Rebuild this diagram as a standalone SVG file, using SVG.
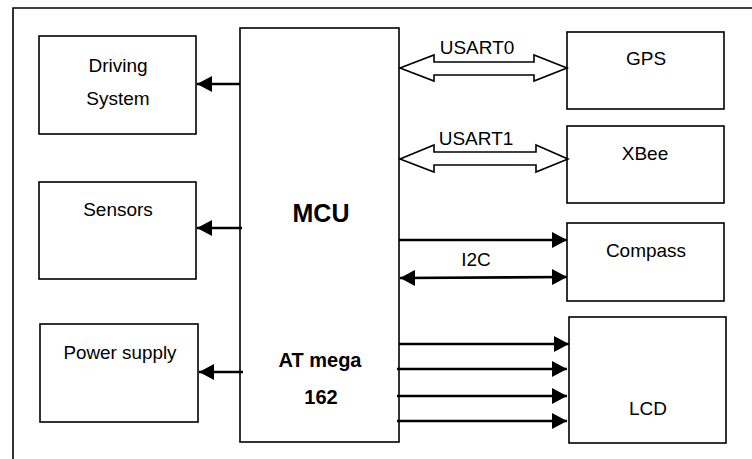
<svg xmlns="http://www.w3.org/2000/svg" width="752" height="459" viewBox="0 0 752 459">
<defs>
<marker id="ah" markerUnits="userSpaceOnUse" markerWidth="16" markerHeight="16" refX="15" refY="8" orient="auto-start-reverse" viewBox="0 0 16 16">
<path d="M0,0 L15,8 L0,16 Z" fill="#000"/>
</marker>
</defs>
<style>
.box{fill:#fff;stroke:#000;stroke-width:1.6}
.t{font-family:"Liberation Sans",Arial,sans-serif;font-size:19px;fill:#000;text-anchor:middle}
.b{font-family:"Liberation Sans",Arial,sans-serif;font-weight:bold;fill:#000;text-anchor:middle}
.w{fill:none;stroke:#000;stroke-width:2.6}
.h{fill:#fff;stroke:#000;stroke-width:1.6;stroke-linejoin:miter}
</style>
<rect width="752" height="459" fill="#fff"/>
<path d="M13,459 V8 H752" fill="none" stroke="#000" stroke-width="1.6"/>
<g id="driving"><rect class="box" x="39" y="36" width="157" height="98"/><text class="t" x="118" y="72">Driving</text><text class="t" x="118" y="105">System</text></g>
<g id="sensors"><rect class="box" x="39" y="182" width="157" height="97"/><text class="t" x="118" y="216">Sensors</text></g>
<g id="power"><rect class="box" x="40" y="324" width="158" height="98"/><text class="t" x="120" y="359" textLength="113" lengthAdjust="spacingAndGlyphs">Power supply</text></g>
<g id="mcu"><rect class="box" x="240" y="28" width="159" height="414"/><text class="b" x="321" y="222" font-size="25">MCU</text><text class="b" x="320" y="367" font-size="20">AT mega</text><text class="b" x="321" y="404" font-size="20">162</text></g>
<g id="gps"><rect class="box" x="567" y="32" width="157" height="77"/><text class="t" x="646" y="65">GPS</text></g>
<g id="xbee"><rect class="box" x="567" y="126" width="157" height="77"/><text class="t" x="645" y="160">XBee</text></g>
<g id="compass"><rect class="box" x="567" y="223" width="157" height="78"/><text class="t" x="646" y="257">Compass</text></g>
<g id="lcd"><rect class="box" x="569" y="317" width="157" height="126"/><text class="t" x="648" y="415">LCD</text></g>
<g id="connectors">
<line class="w" x1="240" y1="84" x2="197" y2="84" marker-end="url(#ah)"/>
<line class="w" x1="242" y1="228" x2="197" y2="228" marker-end="url(#ah)"/>
<line class="w" x1="243" y1="372" x2="199" y2="372" marker-end="url(#ah)"/>
<polygon class="h" points="400,68 434,55 434,62 534,62 534,55 567,68 534,81 534,75 434,75 434,81"/>
<polygon class="h" points="400,159 434,145 434,152 536,152 536,145 568,159 536,172 536,165 434,165 434,172"/>
<line class="w" x1="399" y1="240" x2="567" y2="240" marker-end="url(#ah)"/>
<line class="w" x1="400" y1="278" x2="567" y2="277" marker-start="url(#ah)" marker-end="url(#ah)"/>
<line class="w" x1="399" y1="344" x2="569" y2="344" marker-end="url(#ah)"/>
<line class="w" x1="397" y1="369" x2="567" y2="369" marker-end="url(#ah)"/>
<line class="w" x1="397" y1="396" x2="567" y2="396" marker-end="url(#ah)"/>
<line class="w" x1="397" y1="421" x2="567" y2="421" marker-end="url(#ah)"/>
<text class="t" x="477" y="54">USART0</text>
<text class="t" x="476" y="145">USART1</text>
<text class="t" x="476" y="266">I2C</text>
</g>
</svg>
